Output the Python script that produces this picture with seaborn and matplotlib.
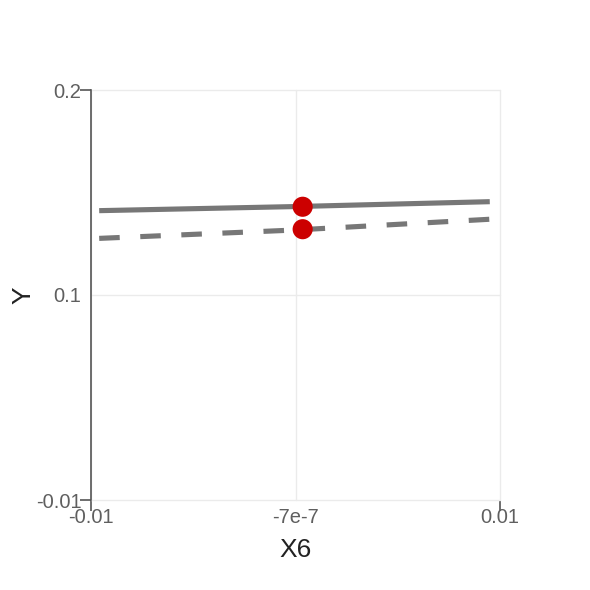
import pandas as pd
import matplotlib
matplotlib.use('Agg')
import matplotlib.pyplot as plt
import seaborn as sns

sns.set_style('white')
plt.rcParams['font.family'] = ['Liberation Sans', 'DejaVu Sans']

# Data
x_line = [-0.0096, 0.0, 0.0095]
y_solid = [0.1382, 0.1403, 0.1428]
y_dashed = [0.1240, 0.1283, 0.1338]
x_points = [0.00035, 0.00035]
y_points = [0.1402, 0.1287]

x_ticks = [-0.01, 0.0, 0.01]
x_ticklabels = ['-0.01', '-7e-7', '0.01']
y_ticks = [-0.01, 0.095, 0.2]
y_ticklabels = ['-0.01', '0.1', '0.2']

df = pd.DataFrame({'x': x_line * 2,
                   'y': y_solid + y_dashed,
                   'kind': ['solid'] * 3 + ['dashed'] * 3})
pts = pd.DataFrame({'x': x_points, 'y': y_points})

fig = plt.figure(figsize=(5.9, 5.9), dpi=100)
ax = fig.add_axes([91 / 590, 1 - 500 / 590, 409 / 590, 410 / 590])

sns.lineplot(data=df, x='x', y='y', style='kind', style_order=['solid', 'dashed'],
             dashes={'solid': '', 'dashed': (4, 4)}, color='#777777',
             linewidth=3.7, legend=False, ax=ax, zorder=2)
for ln in ax.get_lines():
    ln.set_dash_capstyle('butt')
    ln.set_solid_capstyle('butt')

sns.scatterplot(data=pts, x='x', y='y', color='#cc0000', s=210,
                edgecolor='none', ax=ax, zorder=3)

ax.set_xlim(-0.01, 0.01)
ax.set_ylim(-0.01, 0.2)
ax.set_xticks(x_ticks)
ax.set_xticklabels(x_ticklabels)
ax.set_yticks(y_ticks)
ax.set_yticklabels(y_ticklabels)
ax.grid(True, color='#ebebeb', linewidth=1)
ax.set_axisbelow(True)
for g in ax.get_xgridlines() + ax.get_ygridlines():
    g.set_clip_on(False)

ax.tick_params(bottom=True, left=True, length=8, width=1.2, color='#555555',
               labelsize=14.5, labelcolor='#5f5f5f')
ax.tick_params(axis='x', pad=-2)
ax.tick_params(axis='y', pad=-1)
# only the end ticks carry marks
ax.xaxis.get_major_ticks()[1].tick1line.set_visible(False)
ax.yaxis.get_major_ticks()[1].tick1line.set_visible(False)

for side in ['top', 'right', 'bottom']:
    ax.spines[side].set_visible(False)
ax.spines['left'].set_color('#555555')
ax.spines['left'].set_linewidth(1.2)

ax.set_xlabel('X6', fontsize=19, color='#222222')
ax.set_ylabel('Y', fontsize=19, color='#222222')
ax.xaxis.set_label_coords(0.5, -0.093)
ax.yaxis.set_label_coords(-0.135, 0.5)

fig.savefig('out.png', dpi=100)
